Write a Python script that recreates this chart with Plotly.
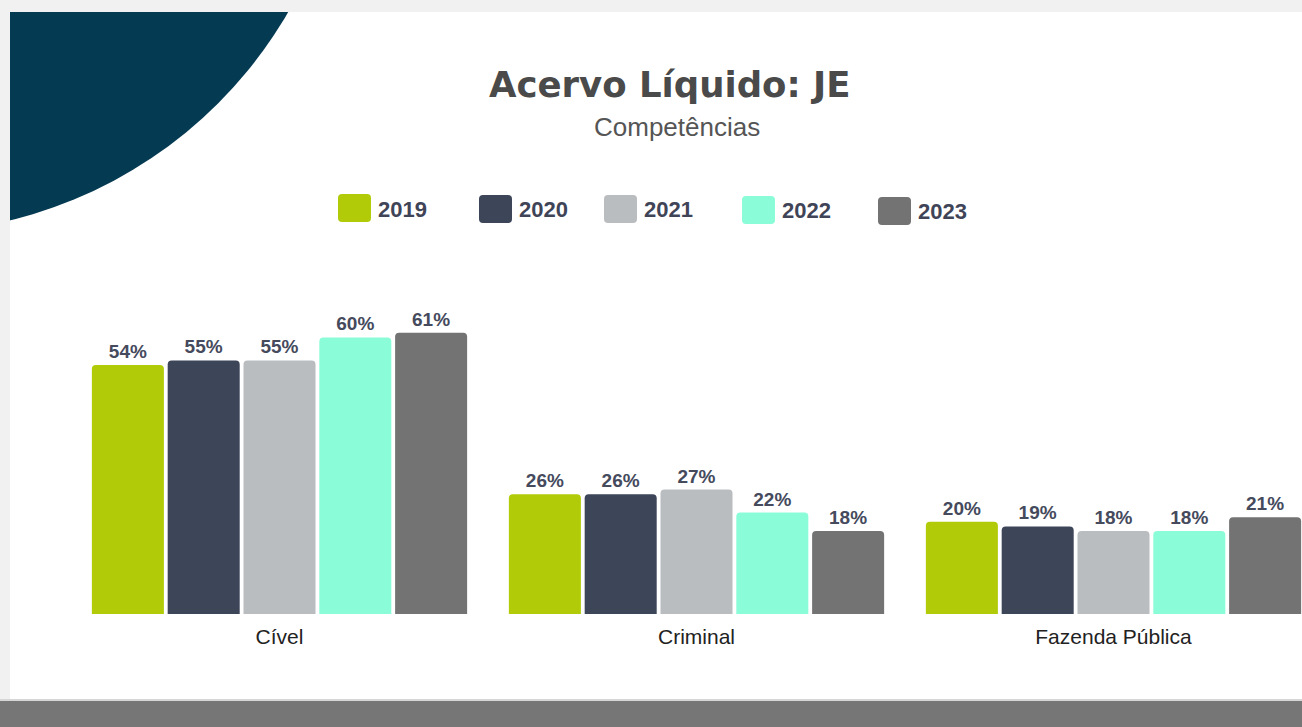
import plotly.graph_objects as go

# ---- data ----
categories = ["Cível", "Criminal", "Fazenda Pública"]
years = ["2019", "2020", "2021", "2022", "2023"]
v2019 = [54, 26, 20]
v2020 = [55, 26, 19]
v2021 = [55, 27, 18]
v2022 = [60, 22, 18]
v2023 = [61, 18, 21]
series = [v2019, v2020, v2021, v2022, v2023]
colors = ["#b1cb08", "#3d4559", "#babdbf", "#8bfcd8", "#737373"]

# ---- layout geometry (pixels) ----
FW, FH = 1302, 727
L, R, T, B = 71, 0, 250, 113
PW, PH = FW - L - R, FH - T - B
PX_PER_UNIT = 4.61
CAT_PX = 417


def px(x):
    return (x - L) / PW


def py(y):
    return (FH - B - y) / PH


fig = go.Figure()
for yr, vals, col in zip(years, series, colors):
    fig.add_trace(go.Bar(
        name=yr, x=categories, y=vals,
        marker=dict(color=col, line=dict(width=0)),
        texttemplate="%{y}%", textposition="outside",
        textfont=dict(family="Liberation Sans, Arial", size=19, color="#454a5d", weight="bold"),
        cliponaxis=False, hoverinfo="skip",
    ))

shapes = []
# dark quarter circle in the top-left corner
cx, cy, r = -95, -210, 443
shapes.append(dict(type="circle", xref="paper", yref="paper",
                   x0=px(cx - r), x1=px(cx + r), y0=py(cy + r), y1=py(cy - r),
                   fillcolor="#043a52", line=dict(width=0), layer="below"))
# page background strips
shapes.append(dict(type="rect", xref="paper", yref="paper",
                   x0=px(0), x1=px(FW), y0=py(12), y1=py(0),
                   fillcolor="#f1f1f1", line=dict(width=0), layer="below"))
shapes.append(dict(type="rect", xref="paper", yref="paper",
                   x0=px(0), x1=px(10), y0=py(700), y1=py(12),
                   fillcolor="#f1f1f1", line=dict(width=0), layer="below"))
# bottom band
shapes.append(dict(type="rect", xref="paper", yref="paper",
                   x0=px(0), x1=px(FW), y0=py(701), y1=py(699),
                   fillcolor="#d6d6d6", line=dict(width=0), layer="below"))
shapes.append(dict(type="rect", xref="paper", yref="paper",
                   x0=px(0), x1=px(FW), y0=py(FH), y1=py(701),
                   fillcolor="#767676", line=dict(width=0), layer="below"))

annotations = []
# custom legend
leg_x = [338, 479, 604, 742, 878]
leg_y = [194, 195, 195, 196, 197]
SW, SH, RC = 33, 28, 4
for yr, col, lx, ly in zip(years, colors, leg_x, leg_y):
    x0, x1, y0, y1 = lx, lx + SW, ly, ly + SH
    path = (f"M {px(x0 + RC)},{py(y0)} L {px(x1 - RC)},{py(y0)} "
            f"Q {px(x1)},{py(y0)} {px(x1)},{py(y0 + RC)} "
            f"L {px(x1)},{py(y1 - RC)} Q {px(x1)},{py(y1)} {px(x1 - RC)},{py(y1)} "
            f"L {px(x0 + RC)},{py(y1)} Q {px(x0)},{py(y1)} {px(x0)},{py(y1 - RC)} "
            f"L {px(x0)},{py(y0 + RC)} Q {px(x0)},{py(y0)} {px(x0 + RC)},{py(y0)} Z")
    shapes.append(dict(type="path", xref="paper", yref="paper", path=path,
                       fillcolor=col, line=dict(width=0)))
    annotations.append(dict(xref="paper", yref="paper", x=px(x1 + 5), y=py(ly + SH / 2 + 1),
                            xanchor="left", yanchor="middle", showarrow=False, text=yr,
                            font=dict(family="Liberation Sans, Arial", size=22, color="#3f4457",
                                      weight="bold")))

# title and subtitle
annotations.append(dict(xref="paper", yref="paper", x=px(669), y=py(84),
                        xanchor="center", yanchor="middle", showarrow=False,
                        text="Acervo Líquido: JE",
                        font=dict(family="DejaVu Sans", size=35.5, color="#4a4a4a", weight="bold")))
annotations.append(dict(xref="paper", yref="paper", x=px(677), y=py(127),
                        xanchor="center", yanchor="middle", showarrow=False,
                        text="Competências",
                        font=dict(family="Liberation Sans, Arial", size=26, color="#555555")))

fig.update_layout(
    width=FW, height=FH,
    margin=dict(l=L, r=R, t=T, b=B, pad=0),
    paper_bgcolor="white", plot_bgcolor="rgba(0,0,0,0)",
    barmode="group", bargap=0.091, bargroupgap=0.05, barcornerradius=4,
    showlegend=False, hovermode=False,
    shapes=shapes, annotations=annotations,
    xaxis=dict(range=[-0.5, -0.5 + PW / CAT_PX], showgrid=False, zeroline=False,
               showline=False, ticks="", ticklabelstandoff=8, fixedrange=True,
               tickfont=dict(family="Liberation Sans, Arial", size=21, color="#222222")),
    yaxis=dict(range=[0, PH / PX_PER_UNIT], visible=False, showgrid=False, zeroline=False,
               fixedrange=True),
)

fig.write_html("out.html", config={"displayModeBar": False},
               post_script="document.body.style.margin='0';document.body.style.overflow='hidden';")
